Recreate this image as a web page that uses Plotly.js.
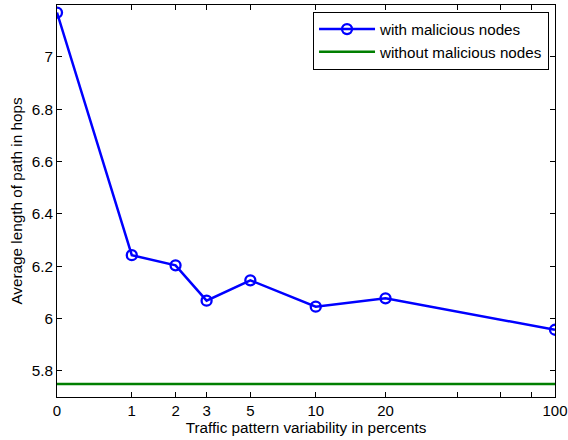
<!DOCTYPE html>
<html><head><meta charset="utf-8">
<script src="https://cdn.plot.ly/plotly-3.0.1.min.js"></script>
<style>body{margin:0;background:#fff}#c{width:568px;height:440px}</style>
</head><body><div id="c"></div>
<script>
var variability = [0, 1, 2, 3, 5, 10, 20, 100];
var withMalicious = [7.169, 6.242, 6.203, 6.068, 6.146, 6.045, 6.077, 5.957];
var withoutMalicious = [5.75, 5.75, 5.75, 5.75, 5.75, 5.75, 5.75, 5.75];
var xTickValues = [0, 1, 2, 3, 5, 10, 20, 40, 60, 80, 100];
var xTickLabels = ['0', '1', '2', '3', '5', '10', '20', '', '', '', '100'];
var yTickValues = [5.8, 6, 6.2, 6.4, 6.6, 6.8, 7];
var yTickLabels = ['5.8', '6', '6.2', '6.4', '6.6', '6.8', '7'];

// axis is log10(v+1)
var shift = function (v) { return v + 1; };

var traces = [
  {x: variability.map(shift), y: withMalicious, name: 'with malicious nodes', mode: 'lines+markers',
   line: {color: '#0000ff', width: 2.5},
   marker: {symbol: 'circle-open', size: 10, color: '#0000ff', line: {width: 2.3, color: '#0000ff'}}},
  {x: variability.map(shift), y: withoutMalicious, name: 'without malicious nodes', mode: 'lines',
   line: {color: '#007f00', width: 2.5}}
];

var layout = {
  width: 568, height: 440,
  margin: {l: 57, r: 13, t: 5, b: 43},
  paper_bgcolor: '#fff', plot_bgcolor: '#fff',
  font: {family: 'Liberation Sans, Arial, sans-serif', size: 15.3, color: '#000'},
  showlegend: true,
  legend: {x: 0.988, xanchor: 'right', y: 0.983, yanchor: 'top', bgcolor: '#fff',
           bordercolor: '#000', borderwidth: 1, font: {size: 15.2}, tracegroupgap: 0,
           itemwidth: 56},
  xaxis: {type: 'log', range: [0, Math.log10(101)], tickmode: 'array',
          tickvals: xTickValues.map(shift), ticktext: xTickLabels,
          ticks: 'inside', ticklen: 5, tickcolor: '#000', showgrid: false, zeroline: false,
          showline: true, linecolor: '#000', linewidth: 1, mirror: 'ticks',
          tickfont: {size: 15}, ticklabeloverflow: 'allow',
          title: {text: 'Traffic pattern variability in percents', standoff: 2, font: {size: 15.3}}},
  yaxis: {range: [5.7, 7.198], tickmode: 'array', tickvals: yTickValues, ticktext: yTickLabels,
          ticks: 'inside', ticklen: 5, tickcolor: '#000', showgrid: false, zeroline: false,
          showline: true, linecolor: '#000', linewidth: 1, mirror: 'ticks',
          tickfont: {size: 15.3},
          title: {text: 'Average length of path in hops', standoff: 5, font: {size: 15.3}}}
};
Plotly.newPlot('c', traces, layout, {displayModeBar: false, staticPlot: true});
</script></body></html>
